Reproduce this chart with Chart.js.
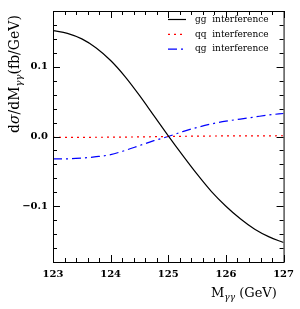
<!DOCTYPE html>
<html>
<head>
<meta charset="utf-8">
<script src="https://cdn.jsdelivr.net/npm/chart.js@4"></script>
<style>
  html, body { margin: 0; padding: 0; background: #fff; }
  #wrap { width: 300px; height: 309px; }
</style>
</head>
<body>
<div id="wrap"><canvas id="InterfChart"></canvas></div>
<script>
// values
const masses = [123, 123.25, 123.5, 123.75, 124, 124.25, 124.5, 124.75, 125, 125.25, 125.5, 125.75, 126, 126.25, 126.5, 126.75, 127];
const ggInterf = [0.152, 0.148, 0.140, 0.127, 0.109, 0.086, 0.059, 0.030, 0.001, -0.027, -0.054, -0.079, -0.100, -0.118, -0.133, -0.144, -0.152];
const qqInterf = [-0.0014, -0.0013, -0.0012, -0.0011, -0.0010, -0.0008, -0.0006, -0.0003, 0.0, 0.0003, 0.0005, 0.0007, 0.0008, 0.0009, 0.0010, 0.0010, 0.0011];
const qgInterf = [-0.032, -0.032, -0.031, -0.029, -0.026, -0.020, -0.013, -0.006, 0.000, 0.007, 0.013, 0.018, 0.022, 0.025, 0.028, 0.031, 0.033];
const xTicks = [123, 124, 125, 126, 127];
const yTicks = [-0.1, 0.0, 0.1];
const seriesNames = ['gg  interference', 'qq  interference', 'qg  interference'];

const toPts = (ys) => masses.map((m, i) => ({x: m, y: ys[i]}));

const serif = '"DejaVu Serif", "Liberation Serif", serif';

const frame = {
  id: 'frame',
  afterDraw(chart) {
    const {ctx, chartArea: a, scales} = chart;
    const xs = scales.x, ys = scales.y;
    ctx.save();
    ctx.strokeStyle = '#000';
    ctx.lineWidth = 1;
    ctx.strokeRect(a.left + 0.5, a.top + 0.5, a.right - a.left, a.bottom - a.top);

    // inward ticks on all four sides
    ctx.beginPath();
    for (let v = 123; v <= 127.001; v += 0.2) {
      const px = Math.round(xs.getPixelForValue(v)) + 0.5;
      const major = Math.abs(v - Math.round(v)) < 0.01;
      const len = major ? 7 : 4;
      ctx.moveTo(px, a.bottom); ctx.lineTo(px, a.bottom - len);
      ctx.moveTo(px, a.top); ctx.lineTo(px, a.top + len);
    }
    for (let k = -9; k <= 9; k++) {
      const v = k * 0.02;
      const py = Math.round(ys.getPixelForValue(v)) + 0.5;
      const major = Math.abs(k % 5) === 0;
      const len = major ? 7 : 4;
      ctx.moveTo(a.left, py); ctx.lineTo(a.left + len, py);
      ctx.moveTo(a.right, py); ctx.lineTo(a.right - len, py);
    }
    ctx.stroke();

    // legend
    ctx.font = '9px ' + serif;
    ctx.textBaseline = 'middle';
    ctx.fillStyle = '#000';
    chart.data.datasets.forEach((ds, i) => {
      const y = 19.5 + i * 14.8;
      ctx.beginPath();
      ctx.strokeStyle = ds.borderColor;
      ctx.lineWidth = ds.borderWidth;
      ctx.setLineDash(ds.borderDash || []);
      ctx.moveTo(168, y); ctx.lineTo(186, y);
      ctx.stroke();
      ctx.setLineDash([]);
      ctx.fillText(seriesNames[i], 195, y);
    });

    // x title  M_γγ (GeV)
    ctx.fillStyle = '#000';
    ctx.textBaseline = 'alphabetic';
    ctx.font = '13px ' + serif;
    let x = 211, yb = 297;
    ctx.fillText('M', x, yb); x += ctx.measureText('M').width;
    ctx.font = 'italic 9px ' + serif;
    ctx.fillText('γγ', x, yb + 3); x += ctx.measureText('γγ').width;
    ctx.font = '13px ' + serif;
    ctx.fillText(' (GeV)', x, yb);

    // y title  dσ/dM_γγ(fb/GeV)
    ctx.translate(19, 133);
    ctx.rotate(-Math.PI / 2);
    x = 0;
    ctx.font = '14px ' + serif;
    ctx.fillText('d', x, 0); x += ctx.measureText('d').width;
    ctx.font = 'italic 14px ' + serif;
    ctx.fillText('σ', x, 0); x += ctx.measureText('σ').width;
    ctx.font = '14px ' + serif;
    ctx.fillText('/dM', x, 0); x += ctx.measureText('/dM').width;
    ctx.font = 'italic 10px ' + serif;
    ctx.fillText('γγ', x, 3); x += ctx.measureText('γγ').width;
    ctx.font = '14px ' + serif;
    ctx.fillText('(fb/GeV)', x, 0);
    ctx.restore();
  }
};

const data = {
  datasets: [
    {label: seriesNames[0], data: toPts(ggInterf), borderColor: '#000', borderWidth: 1.2},
    {label: seriesNames[1], data: toPts(qqInterf), borderColor: '#ff0000', borderWidth: 1.2, borderDash: [2, 4]},
    {label: seriesNames[2], data: toPts(qgInterf), borderColor: '#0000ff', borderWidth: 1.2, borderDash: [9, 4, 2, 4]}
  ]
};

const config = {
  type: 'line',
  data: data,
  options: {
    responsive: true,
    maintainAspectRatio: false,
    animation: false,
    devicePixelRatio: 1,
    layout: {padding: {top: 4, right: 15, left: 0, bottom: 0}},
    elements: {point: {radius: 0}, line: {tension: 0.4, cubicInterpolationMode: 'monotone', fill: false}},
    plugins: {legend: {display: false}, tooltip: {enabled: false}},
    scales: {
      x: {
        type: 'linear', min: 123, max: 127,
        grid: {display: false, drawTicks: false},
        border: {display: false},
        afterBuildTicks: (s) => { s.ticks = xTicks.map(v => ({value: v})); },
        afterFit: (s) => { s.height = 47; },
        ticks: {padding: 6, color: '#000', font: {family: serif, size: 10, weight: 'bold'}, maxRotation: 0,
                callback: (v) => String(v)}
      },
      y: {
        type: 'linear', min: -0.18, max: 0.18,
        grid: {display: false, drawTicks: false},
        border: {display: false},
        afterBuildTicks: (s) => { s.ticks = yTicks.map(v => ({value: v})); },
        afterFit: (s) => { s.width = 53; },
        ticks: {padding: 5, color: '#000', font: {family: serif, size: 10, weight: 'bold'},
                callback: (v) => (v < 0 ? '\u2212' : '') + Math.abs(v).toFixed(1)}
      }
    }
  },
  plugins: [frame]
};

new Chart(document.getElementById('InterfChart'), config);
</script>
</body>
</html>
